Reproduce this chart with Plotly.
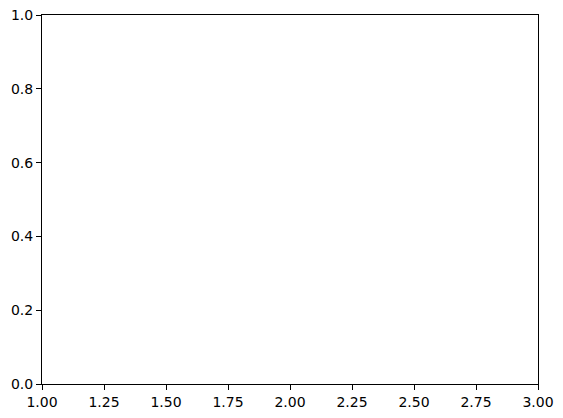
import plotly.graph_objects as go

# empty axes, like plt.xlim(1, 3) with nothing drawn
x_range = [1, 3]
y_range = [0, 1]
x_ticks = [1.00, 1.25, 1.50, 1.75, 2.00, 2.25, 2.50, 2.75, 3.00]
y_ticks = [0.0, 0.2, 0.4, 0.6, 0.8, 1.0]

fig = go.Figure()
fig.add_trace(go.Scatter(x=[], y=[], mode="lines", showlegend=False))

axis_style = dict(
    showline=True, mirror=True, linecolor="black", linewidth=1,
    ticks="outside", ticklen=5, tickwidth=1, tickcolor="black",
    showgrid=False, zeroline=False, automargin=False,
)

fig.update_layout(
    width=563, height=418,
    margin=dict(l=42, r=25, t=15, b=34),
    paper_bgcolor="white", plot_bgcolor="white",
    font=dict(family="DejaVu Sans", size=14, color="black"),
    xaxis=dict(range=x_range, tickvals=x_ticks, tickformat=".2f", **axis_style),
    yaxis=dict(range=y_range, tickvals=y_ticks, tickformat=".1f", **axis_style),
)

# the page has a default 8px body margin, drop it so the figure sits at 0,0
fig.write_html("out.html", config={"displayModeBar": False},
               post_script="document.body.style.margin='0';")
